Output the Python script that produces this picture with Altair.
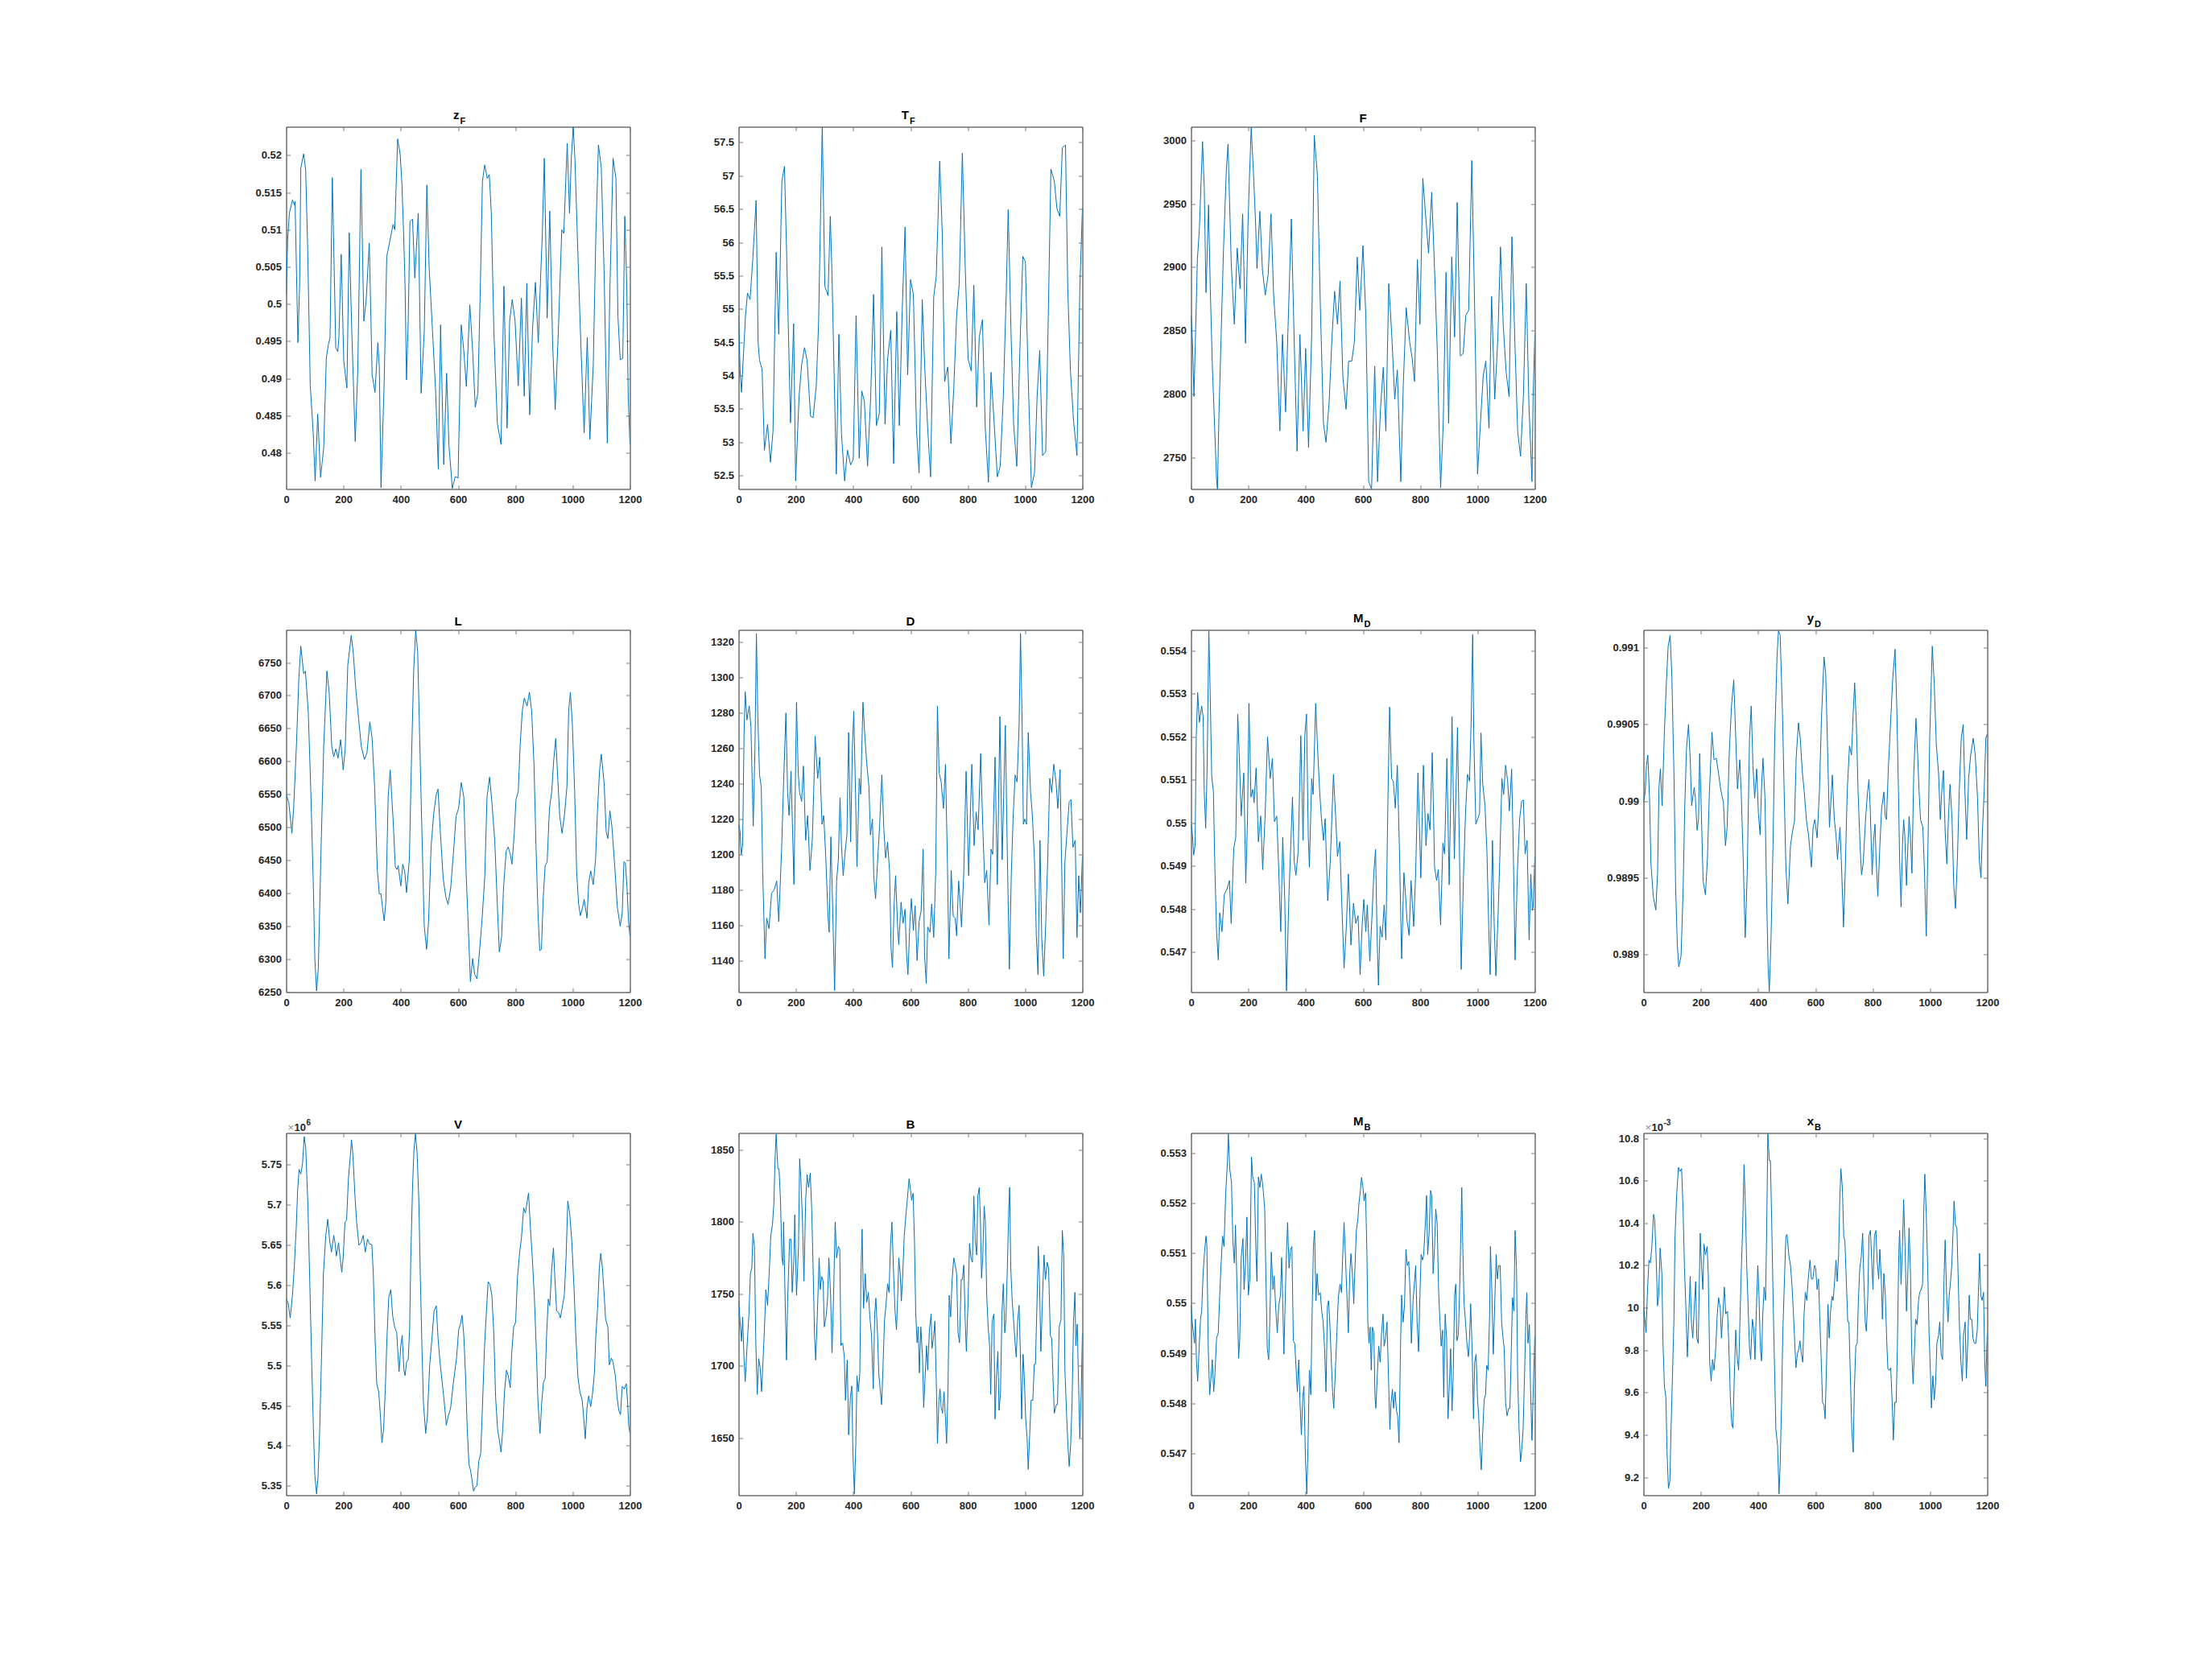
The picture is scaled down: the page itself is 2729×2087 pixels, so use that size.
import altair as alt
import pandas as pd

# ---------------- data ----------------
XT = [0, 200, 400, 600, 800, 1000, 1200]

zF_t = [0,5,11,22,29,31,36,41,47,51,61,68,75,84,94,101,110,120,131,140,147,153,161,169,173,180,184,192,201,212,220,229,241,250,261,271,279,290,300,310,320,325,331,342,351,362,373,379,389,398,404,410,415,420,426,432,441,449,461,471,482,491,499,512,522,531,539,550,560,568,580,590,600,611,620,629,641,651,660,669,677,685,693,702,709,716,725,737,750,760,771,780,789,799,810,821,831,840,850,860,870,880,888,894,901,911,920,930,939,950,962,969,981,989,995,1002,1008,1018,1027,1040,1051,1060,1072,1081,1090,1100,1110,1121,1130,1141,1151,1158,1166,1175,1182,1189,1194,1200]
zF_v = [0.5013,0.5085,0.5122,0.514,0.5133,0.5138,0.5042,0.4948,0.5028,0.5183,0.5202,0.518,0.5075,0.489,0.4829,0.4762,0.4852,0.4767,0.4807,0.4927,0.4945,0.4955,0.517,0.502,0.4941,0.4936,0.4955,0.5067,0.4923,0.4887,0.5096,0.4963,0.4815,0.4912,0.5181,0.4977,0.5004,0.5082,0.4905,0.4881,0.4948,0.4916,0.4753,0.4894,0.5064,0.5085,0.5107,0.51,0.5222,0.5201,0.5161,0.5093,0.5024,0.4898,0.4977,0.5111,0.5114,0.5035,0.5122,0.488,0.4963,0.516,0.5049,0.4955,0.488,0.4778,0.4972,0.4784,0.4907,0.4811,0.4752,0.4768,0.4766,0.4972,0.4937,0.4889,0.4999,0.4936,0.4861,0.488,0.501,0.5165,0.5187,0.5169,0.5174,0.5122,0.4963,0.484,0.4811,0.5024,0.4833,0.4977,0.5006,0.4977,0.489,0.5008,0.4876,0.5028,0.4851,0.4967,0.5029,0.4948,0.5035,0.5093,0.5196,0.4981,0.5125,0.4948,0.4858,0.4963,0.51,0.5095,0.5216,0.5122,0.5194,0.5238,0.5194,0.5071,0.4963,0.4827,0.4955,0.4818,0.4919,0.5093,0.5214,0.5183,0.5039,0.4813,0.502,0.5196,0.5169,0.4984,0.4925,0.4927,0.5118,0.502,0.4876,0.4811]
zF_ticks = [0.48,0.485,0.49,0.495,0.5,0.505,0.51,0.515,0.52]

TF_t = [0,5,10,17,24,31,40,50,61,68,73,82,90,101,111,120,131,140,151,160,168,181,192,199,211,220,230,239,251,260,271,279,286,292,297,301,312,320,326,333,341,350,359,370,380,391,400,410,421,430,439,450,461,471,481,491,500,511,520,531,541,552,561,571,581,590,600,610,621,630,641,650,660,670,681,690,702,711,719,730,741,751,761,770,781,791,801,812,821,831,840,851,861,872,881,892,903,913,924,934,941,951,960,971,982,992,1001,1010,1022,1033,1042,1051,1061,1072,1081,1090,1102,1111,1121,1130,1141,1149,1158,1169,1181,1191,1200]
TF_v = [54.9,54.09,53.75,54.33,54.9,55.24,55.14,55.79,56.63,54.5,54.23,54.09,52.88,53.27,52.7,53.17,55.85,54.62,56.92,57.14,55.75,53.29,54.78,52.42,53.69,54.17,54.42,54.23,53.39,53.37,53.85,54.78,56.43,57.73,56.39,55.34,55.2,56.39,55.5,54.09,52.52,54.62,53.13,52.42,52.88,52.66,52.74,54.9,52.76,53.77,53.61,52.64,53.69,55.22,53.25,53.43,55.93,53.27,54.25,54.68,52.68,54.96,53.25,54.98,56.23,54.01,55.44,55.22,53.17,52.54,55.14,54.09,53.21,52.48,55.18,55.5,57.22,56.11,53.91,54.13,52.98,53.81,54.9,55.38,57.34,55.63,54.25,54.07,55.36,53.53,54.58,54.84,53.21,52.4,54.05,53.29,52.48,52.64,53.69,55.22,56.49,54.62,53.27,52.64,54.42,55.79,55.71,54.09,52.32,52.54,53.69,54.38,52.8,52.86,54.9,57.1,56.92,56.51,56.39,57.42,57.46,55.3,54.09,53.33,52.8,55.3,56.51]
TF_ticks = [52.5,53,53.5,54,54.5,55,55.5,56,56.5,57,57.5]

F_t = [0,5,10,16,22,29,35,40,46,52,55,61,67,74,82,89,92,97,105,113,123,129,140,151,161,171,180,185,190,199,204,210,219,225,230,240,249,259,269,279,288,299,310,319,330,338,350,360,370,380,391,400,410,421,430,441,451,462,471,482,492,501,511,520,530,541,550,561,570,580,589,600,610,620,630,641,651,661,671,680,690,700,711,720,732,741,751,763,772,780,790,799,809,819,829,840,850,860,871,880,890,899,910,920,929,940,950,959,969,980,989,1000,1010,1020,1029,1040,1049,1060,1071,1080,1090,1100,1110,1120,1131,1140,1150,1160,1170,1179,1190,1194,1200]
F_v = [2862,2841,2798,2851,2906,2930,2968,2999,2963,2880,2900,2949,2883,2824,2775,2733,2725,2781,2847,2913,2976,2997,2904,2855,2915,2883,2942,2894,2840,2936,2972,3010,2968,2936,2899,2944,2898,2878,2894,2942,2879,2841,2771,2847,2786,2849,2938,2841,2755,2847,2771,2836,2758,2847,3004,2972,2872,2777,2762,2794,2845,2881,2855,2889,2813,2788,2826,2826,2841,2908,2866,2917,2862,2731,2725,2822,2731,2788,2821,2771,2887,2849,2796,2819,2731,2809,2868,2841,2828,2810,2906,2855,2970,2940,2911,2959,2898,2830,2726,2775,2896,2777,2908,2845,2951,2830,2832,2862,2866,2984,2879,2737,2777,2815,2826,2773,2877,2796,2845,2916,2853,2817,2798,2924,2836,2771,2751,2798,2887,2794,2731,2798,2847]
F_ticks = [2750,2800,2850,2900,2950,3000]

L_t = [0,9,20,26,36,44,51,61,67,77,86,95,100,106,112,122,131,142,150,159,166,173,181,190,199,206,215,227,234,243,253,262,273,282,292,300,309,318,325,331,336,342,348,356,363,373,381,387,391,400,407,414,420,430,437,445,452,459,466,475,482,490,497,506,515,524,530,538,548,557,565,574,583,593,602,611,620,628,637,643,651,658,666,675,684,693,701,710,718,728,737,744,752,759,768,775,782,788,796,802,810,817,824,831,841,849,857,865,872,879,885,891,897,904,911,919,927,934,941,948,955,963,972,980,986,992,999,1007,1014,1021,1027,1035,1040,1050,1056,1063,1072,1080,1087,1094,1100,1110,1117,1123,1130,1137,1147,1156,1166,1173,1179,1184,1190,1195,1200]
L_v = [6550,6538,6491,6529,6627,6725,6775,6733,6737,6676,6554,6407,6301,6252,6285,6472,6623,6737,6705,6623,6607,6619,6605,6633,6587,6619,6746,6791,6766,6709,6664,6623,6603,6613,6660,6635,6558,6436,6399,6399,6379,6358,6387,6546,6587,6513,6440,6436,6442,6411,6444,6432,6401,6452,6595,6737,6799,6766,6635,6472,6350,6315,6358,6472,6521,6550,6558,6493,6423,6395,6383,6407,6456,6517,6529,6568,6546,6432,6334,6266,6301,6277,6270,6313,6362,6423,6546,6576,6538,6480,6383,6311,6334,6411,6464,6470,6460,6444,6489,6542,6554,6627,6676,6696,6684,6705,6676,6595,6472,6370,6313,6315,6391,6442,6448,6529,6554,6603,6635,6574,6517,6491,6521,6562,6676,6705,6656,6554,6432,6383,6366,6379,6391,6362,6415,6434,6413,6452,6529,6587,6611,6566,6493,6483,6525,6501,6440,6379,6350,6370,6448,6446,6407,6358,6334]
L_ticks = [6250,6300,6350,6400,6450,6500,6550,6600,6650,6700,6750]

D_t = [0,5,9,14,19,23,29,37,43,51,57,62,67,73,79,84,92,98,106,115,124,133,140,150,157,165,171,176,183,193,197,202,208,213,220,226,234,241,249,257,262,267,276,283,291,297,304,312,316,322,327,335,342,348,354,359,365,372,378,384,391,397,402,408,413,421,426,434,441,447,455,460,467,472,478,485,492,500,507,513,520,527,532,537,543,548,555,559,567,574,581,586,591,598,603,610,616,623,630,637,644,649,655,660,668,674,681,688,694,700,707,715,722,729,734,742,749,756,761,768,773,778,786,794,803,814,822,829,836,845,852,859,866,874,881,887,895,903,912,920,931,939,945,952,958,965,972,979,984,989,994,999,1005,1011,1019,1025,1033,1039,1045,1052,1058,1065,1072,1079,1086,1093,1100,1108,1114,1122,1128,1133,1139,1147,1154,1160,1167,1175,1181,1187,1193,1200]
D_v = [1217,1213,1200,1205,1269,1292,1276,1284,1272,1216,1260,1325,1278,1245,1238,1190,1141,1164,1158,1178,1180,1185,1162,1203,1241,1280,1235,1222,1247,1183,1228,1286,1246,1235,1230,1250,1208,1222,1191,1208,1235,1267,1243,1255,1217,1222,1199,1165,1156,1210,1178,1123,1185,1197,1232,1205,1188,1202,1211,1269,1207,1260,1281,1235,1193,1243,1234,1286,1266,1252,1238,1211,1220,1187,1175,1196,1216,1245,1214,1198,1207,1190,1147,1136,1173,1188,1159,1149,1173,1161,1169,1144,1132,1162,1175,1157,1171,1140,1162,1168,1203,1143,1127,1159,1156,1172,1153,1190,1284,1246,1241,1226,1251,1194,1141,1191,1165,1164,1154,1185,1173,1159,1190,1247,1188,1251,1205,1224,1214,1257,1217,1184,1191,1160,1203,1200,1255,1183,1278,1197,1273,1190,1135,1190,1220,1245,1241,1273,1325,1281,1217,1220,1217,1269,1235,1223,1196,1155,1132,1208,1153,1131,1161,1197,1243,1235,1251,1241,1226,1248,1190,1141,1196,1214,1230,1231,1204,1208,1153,1188,1167,1199]
D_ticks = [1140,1160,1180,1200,1220,1240,1260,1280,1300,1320]

MD_t = [0,5,9,14,18,23,29,37,42,46,51,56,62,67,72,78,83,89,95,100,108,116,126,134,140,149,156,163,170,175,184,191,197,202,209,215,220,227,235,243,250,258,267,276,284,291,299,305,313,320,327,333,342,348,354,360,366,374,383,391,397,403,409,413,421,426,435,441,449,455,462,468,477,486,497,505,511,519,525,534,542,549,558,567,575,583,590,597,603,610,615,624,631,638,644,649,654,660,667,674,680,687,693,700,706,713,720,727,735,743,749,754,761,768,777,784,792,802,811,820,827,834,842,850,857,863,871,879,885,893,901,911,919,930,938,943,951,958,965,972,978,983,987,994,1001,1007,1012,1018,1026,1033,1039,1044,1052,1058,1064,1072,1079,1085,1091,1098,1105,1111,1119,1125,1131,1139,1147,1154,1160,1166,1173,1180,1186,1191,1194,1200]
MD_v = [0.54997,0.54972,0.54925,0.54947,0.55197,0.55303,0.55234,0.55272,0.55247,0.55072,0.54988,0.55128,0.55447,0.55291,0.55109,0.55072,0.54897,0.54747,0.54681,0.54791,0.54747,0.54834,0.54847,0.54866,0.54766,0.54941,0.54966,0.55253,0.55122,0.55016,0.55116,0.5486,0.5501,0.55278,0.5506,0.55078,0.55047,0.55128,0.54956,0.55016,0.54891,0.5501,0.552,0.55103,0.5515,0.55003,0.55016,0.5491,0.54747,0.54966,0.54822,0.54609,0.54841,0.54947,0.5506,0.5491,0.54878,0.54934,0.55203,0.54959,0.55203,0.55253,0.54972,0.54897,0.55103,0.55066,0.55278,0.55181,0.55072,0.5501,0.54959,0.5501,0.54819,0.5491,0.55113,0.5501,0.54922,0.54956,0.54834,0.54662,0.54759,0.54881,0.54716,0.54813,0.54766,0.54784,0.54647,0.54759,0.54822,0.54747,0.54809,0.54678,0.54775,0.54884,0.54938,0.54747,0.54622,0.54759,0.54734,0.54809,0.54728,0.55047,0.55269,0.55103,0.55097,0.55034,0.55134,0.54947,0.54684,0.54884,0.54828,0.54772,0.54738,0.54866,0.54759,0.54884,0.55116,0.54872,0.55134,0.54947,0.55022,0.54984,0.55163,0.54897,0.54866,0.54891,0.54763,0.54953,0.54928,0.5515,0.54856,0.55247,0.54916,0.55222,0.54884,0.54659,0.54878,0.55022,0.55113,0.55097,0.55247,0.55438,0.55197,0.54997,0.5501,0.55022,0.55209,0.55091,0.55041,0.54928,0.54759,0.54647,0.54959,0.54766,0.54644,0.54791,0.54947,0.55103,0.55066,0.55134,0.55097,0.55028,0.55125,0.54928,0.54681,0.54884,0.5501,0.5505,0.55053,0.54928,0.54959,0.54728,0.54881,0.54797,0.54803,0.54922]
MD_ticks = [0.547,0.548,0.549,0.55,0.551,0.552,0.553,0.554]

yD_t = [0,6,10,15,21,26,34,43,49,54,59,65,73,80,86,93,99,106,112,118,123,131,138,144,150,157,163,168,177,181,187,192,196,202,208,216,223,230,239,246,254,262,269,279,286,292,299,307,315,322,328,336,341,348,355,362,370,376,382,388,395,401,407,412,417,424,430,435,439,445,452,458,466,471,477,485,491,497,504,513,520,527,533,541,547,554,561,569,576,586,592,598,606,614,621,630,636,644,649,659,666,672,677,686,692,698,704,711,719,726,732,737,743,749,756,761,767,775,782,787,792,798,803,808,812,818,825,831,839,844,848,855,863,870,878,884,890,894,899,904,908,912,918,923,927,932,937,943,951,957,962,967,975,981,987,993,999,1008,1015,1022,1030,1036,1041,1047,1053,1059,1065,1070,1077,1083,1089,1096,1102,1109,1116,1122,1128,1135,1142,1151,1158,1166,1172,1178,1183,1189,1195,1200]
yD_v = [0.98999,0.99006,0.99023,0.9903,0.99002,0.98959,0.98938,0.98929,0.98953,0.99009,0.99021,0.98997,0.99046,0.99078,0.99101,0.99108,0.99081,0.9902,0.98945,0.98906,0.98892,0.98899,0.9894,0.98997,0.99034,0.9905,0.99027,0.98997,0.99009,0.99002,0.98981,0.98988,0.99031,0.98992,0.98948,0.98939,0.98962,0.99006,0.99045,0.99027,0.99028,0.99018,0.99008,0.98999,0.98971,0.98983,0.9903,0.99062,0.99079,0.99041,0.99008,0.99027,0.99006,0.98962,0.98911,0.98953,0.99041,0.99062,0.99023,0.99002,0.99021,0.98992,0.98978,0.99009,0.99028,0.99002,0.98936,0.98892,0.98876,0.9891,0.98971,0.99041,0.99094,0.99111,0.99108,0.99058,0.99006,0.98957,0.98933,0.98971,0.9898,0.98987,0.99029,0.99051,0.99041,0.9902,0.99006,0.98987,0.98978,0.98957,0.98983,0.98988,0.98976,0.99006,0.99053,0.99094,0.99083,0.99023,0.98983,0.99017,0.98988,0.98978,0.98962,0.98983,0.98953,0.98918,0.98953,0.99006,0.99036,0.9903,0.99058,0.99077,0.9905,0.99006,0.98971,0.98952,0.9896,0.98988,0.99006,0.99014,0.98992,0.98952,0.98974,0.98985,0.98962,0.98938,0.98971,0.98995,0.99006,0.9899,0.98988,0.99023,0.99053,0.9908,0.99099,0.99062,0.99006,0.98962,0.98931,0.98971,0.98988,0.98978,0.98945,0.98971,0.9899,0.98976,0.98953,0.99016,0.99054,0.9903,0.99006,0.98988,0.98983,0.98953,0.98912,0.98971,0.99041,0.99101,0.99076,0.99037,0.99018,0.98988,0.99006,0.9902,0.9898,0.98959,0.98992,0.99011,0.98988,0.98945,0.9893,0.98964,0.99006,0.99041,0.9905,0.99006,0.98975,0.99015,0.9903,0.99041,0.9903,0.99002,0.98962,0.9895,0.9898,0.99006,0.99041,0.99044]
yD_ticks = [0.989,0.9895,0.99,0.9905,0.991]

V_t = [0,7,14,22,28,35,40,45,51,57,63,68,76,82,89,95,100,106,111,117,124,130,138,145,152,158,166,171,175,183,188,194,199,205,211,217,224,228,233,240,246,254,261,269,276,284,291,299,304,310,316,323,329,334,340,346,352,358,365,372,379,386,389,394,400,405,411,415,420,426,431,435,441,446,451,457,463,468,474,479,487,493,501,509,516,524,530,537,544,551,559,566,574,581,588,595,602,609,614,620,626,632,638,643,649,654,660,666,672,679,685,692,699,705,711,718,725,731,738,744,750,756,762,769,775,782,787,794,801,807,815,821,829,835,840,846,852,859,866,873,879,886,892,898,904,909,915,920,927,933,938,944,951,957,963,971,977,983,990,997,1005,1011,1018,1025,1033,1038,1044,1050,1056,1063,1069,1076,1081,1087,1093,1098,1104,1110,1115,1123,1128,1135,1141,1149,1155,1161,1167,1173,1180,1187,1192,1196,1200]
V_v = [5.5827,5.5776,5.5592,5.5877,5.6212,5.6714,5.7182,5.7443,5.7383,5.7517,5.7851,5.7718,5.6981,5.6078,5.504,5.4204,5.3635,5.34,5.3601,5.4204,5.5208,5.6145,5.6613,5.6821,5.6546,5.6412,5.662,5.6513,5.6362,5.6529,5.6345,5.6161,5.6345,5.678,5.6814,5.7316,5.7617,5.7811,5.7617,5.7115,5.678,5.6496,5.6529,5.662,5.6412,5.6573,5.6513,5.6506,5.6145,5.5375,5.4772,5.4672,5.4371,5.4036,5.4204,5.4706,5.5375,5.5843,5.5944,5.5609,5.5475,5.5408,5.5208,5.4923,5.5241,5.5375,5.494,5.4873,5.504,5.5074,5.5475,5.6345,5.7216,5.7684,5.7885,5.7651,5.7048,5.6145,5.5208,5.4539,5.4153,5.4371,5.5007,5.5341,5.5676,5.5743,5.5341,5.504,5.4806,5.4572,5.4254,5.4371,5.4471,5.4706,5.4906,5.5107,5.5442,5.5525,5.5626,5.5375,5.4873,5.4204,5.3769,5.3702,5.3568,5.3434,5.3484,5.3501,5.3802,5.3902,5.4471,5.5208,5.5676,5.6044,5.601,5.5877,5.5375,5.4605,5.4204,5.407,5.3919,5.4204,5.4672,5.494,5.4873,5.4722,5.5141,5.5475,5.5542,5.6078,5.6412,5.658,5.6965,5.6898,5.7015,5.7149,5.6747,5.6345,5.5877,5.5208,5.4539,5.4153,5.4539,5.4789,5.4839,5.5375,5.5827,5.5743,5.6212,5.6463,5.6078,5.5676,5.5659,5.5592,5.571,5.5877,5.6345,5.7048,5.6881,5.6546,5.5944,5.5375,5.4873,5.4672,5.4572,5.4371,5.4086,5.4471,5.4622,5.4488,5.4639,5.4906,5.5375,5.571,5.6212,5.6396,5.6212,5.5877,5.5576,5.5475,5.5007,5.5091,5.504,5.4873,5.4605,5.4438,5.4388,5.4739,5.4706,5.4772,5.4539,5.4237,5.4153]
V_ticks = [5.35,5.4,5.45,5.5,5.55,5.6,5.65,5.7,5.75]

B_t = [0,5,10,14,19,23,29,36,41,46,50,55,60,65,70,75,80,85,90,95,101,108,112,118,123,127,131,137,141,146,151,155,157,162,167,171,178,183,187,193,196,202,209,213,217,223,228,234,239,244,250,255,260,265,269,274,281,285,290,295,299,305,310,315,321,326,331,337,342,348,353,357,363,369,373,379,384,390,395,399,404,409,413,418,423,427,431,436,442,447,453,458,464,470,475,479,485,489,494,499,503,509,515,520,525,530,535,541,546,551,556,559,564,568,573,578,584,589,595,600,604,609,614,618,623,627,631,636,642,646,651,656,660,666,672,675,680,685,690,694,699,703,707,712,717,721,726,731,735,740,745,751,756,761,766,771,777,781,786,791,795,801,806,811,816,821,826,831,835,840,844,848,852,857,861,866,871,876,880,885,891,895,900,905,909,914,919,924,929,933,938,943,946,950,955,960,965,969,974,979,983,988,993,997,1002,1007,1011,1016,1021,1027,1032,1036,1041,1046,1050,1055,1061,1066,1071,1077,1082,1088,1093,1098,1102,1109,1113,1119,1125,1130,1135,1139,1145,1150,1154,1159,1164,1169,1174,1177,1182,1186,1191,1196,1200]
B_v = [1745,1731,1717,1734,1704,1689,1712,1736,1764,1768,1792,1783,1716,1680,1705,1699,1682,1703,1725,1753,1742,1770,1790,1798,1813,1843,1861,1837,1837,1815,1775,1770,1800,1749,1704,1745,1788,1788,1751,1775,1805,1749,1783,1844,1831,1800,1759,1815,1833,1824,1834,1809,1768,1721,1704,1731,1775,1753,1762,1759,1727,1734,1745,1775,1749,1709,1745,1800,1775,1783,1781,1714,1716,1706,1676,1704,1652,1678,1686,1639,1611,1645,1693,1682,1695,1764,1795,1740,1764,1744,1751,1734,1721,1684,1736,1747,1721,1695,1684,1673,1693,1731,1744,1757,1751,1783,1800,1764,1738,1725,1753,1775,1764,1745,1764,1790,1805,1816,1830,1822,1815,1820,1785,1738,1716,1727,1695,1727,1706,1671,1693,1714,1697,1725,1736,1712,1719,1731,1689,1646,1675,1684,1671,1667,1682,1667,1646,1686,1749,1734,1759,1775,1770,1764,1723,1716,1760,1760,1770,1731,1710,1745,1785,1775,1772,1818,1787,1777,1818,1824,1801,1761,1775,1811,1801,1749,1727,1714,1680,1731,1736,1663,1693,1710,1669,1680,1736,1757,1723,1732,1768,1809,1824,1768,1745,1731,1716,1706,1731,1742,1712,1663,1708,1693,1663,1650,1628,1652,1676,1676,1701,1701,1740,1783,1760,1710,1749,1777,1760,1772,1768,1721,1719,1688,1667,1673,1673,1727,1732,1794,1775,1697,1665,1643,1630,1645,1675,1731,1751,1714,1729,1693,1650,1682,1723]
B_ticks = [1650,1700,1750,1800,1850]

MB_t = [0,4,8,12,15,19,23,28,33,37,42,47,52,55,60,65,70,74,79,83,89,95,100,104,110,115,121,127,130,135,141,146,151,155,161,166,170,175,181,185,190,195,200,205,211,215,221,226,230,235,240,245,251,257,261,266,271,275,280,286,290,296,301,306,312,316,319,324,329,333,337,342,347,352,357,362,366,371,376,380,385,390,394,399,404,408,413,418,422,427,431,436,440,445,451,456,461,466,471,476,480,485,489,494,498,503,509,514,520,525,529,534,539,544,549,554,558,563,568,572,577,582,586,591,595,600,604,609,614,617,621,625,629,633,638,642,645,650,655,660,665,670,674,679,684,689,694,698,703,707,712,717,721,726,731,735,740,745,750,755,760,765,769,775,780,784,789,794,799,803,808,812,817,822,826,831,836,840,845,850,854,859,864,868,873,878,882,887,892,897,902,906,911,915,920,924,928,933,938,942,945,948,953,958,963,968,972,976,981,986,990,995,1000,1004,1009,1013,1018,1023,1028,1032,1037,1042,1045,1050,1055,1060,1065,1069,1074,1079,1084,1089,1093,1098,1103,1109,1113,1118,1122,1127,1131,1136,1140,1145,1150,1154,1159,1164,1169,1172,1176,1181,1185,1190,1195,1200]
MB_v = [0.54995,0.54962,0.54941,0.5492,0.54968,0.54882,0.54844,0.54909,0.54968,0.54984,0.55059,0.55102,0.55134,0.55118,0.54909,0.54817,0.54855,0.54887,0.54823,0.54855,0.5493,0.54941,0.55016,0.5507,0.55134,0.55113,0.5522,0.55284,0.55338,0.55268,0.55241,0.55123,0.5508,0.55156,0.55016,0.5489,0.5493,0.55091,0.55129,0.55027,0.5508,0.55172,0.55016,0.55048,0.55292,0.55252,0.55241,0.55113,0.55043,0.55252,0.55231,0.55258,0.55231,0.55188,0.55059,0.54909,0.54887,0.54968,0.55102,0.55027,0.55054,0.54984,0.54941,0.54995,0.55016,0.55091,0.55027,0.54898,0.55016,0.55102,0.55161,0.5507,0.55107,0.55113,0.54925,0.54919,0.54876,0.54823,0.54887,0.54807,0.54737,0.54812,0.54834,0.54694,0.54619,0.5471,0.54866,0.54817,0.54962,0.55113,0.55145,0.55005,0.55059,0.55016,0.55021,0.54984,0.54962,0.54909,0.54823,0.54995,0.55005,0.54952,0.54893,0.54823,0.5479,0.54855,0.54941,0.55011,0.55038,0.55021,0.55091,0.55161,0.55091,0.55016,0.54941,0.55059,0.55099,0.55059,0.54999,0.5507,0.55145,0.55166,0.55199,0.55225,0.55251,0.55231,0.55204,0.5522,0.55097,0.54962,0.5492,0.54952,0.54866,0.54952,0.54941,0.54812,0.5479,0.54855,0.54914,0.54882,0.54941,0.54978,0.54914,0.5493,0.54962,0.54855,0.54748,0.54801,0.54828,0.5479,0.54823,0.54785,0.54775,0.54721,0.54909,0.55016,0.54962,0.54995,0.55107,0.55075,0.55083,0.55016,0.5492,0.55005,0.55043,0.55075,0.54962,0.54903,0.55016,0.55097,0.55086,0.55097,0.5515,0.55215,0.55097,0.5514,0.55225,0.55215,0.55059,0.55113,0.55188,0.55161,0.55027,0.54973,0.54914,0.54946,0.54812,0.54978,0.5493,0.54769,0.54844,0.54909,0.54785,0.54855,0.55016,0.55038,0.54925,0.54936,0.55038,0.5515,0.55231,0.55123,0.54999,0.54962,0.5492,0.54893,0.5493,0.54999,0.54909,0.54769,0.54882,0.54898,0.54807,0.54775,0.54705,0.54667,0.54742,0.54807,0.54817,0.54876,0.54866,0.54973,0.55113,0.55021,0.54898,0.54999,0.55097,0.55048,0.55075,0.55075,0.54962,0.5493,0.54909,0.54801,0.54775,0.5479,0.5479,0.54909,0.55011,0.54984,0.55145,0.5507,0.54855,0.54748,0.54683,0.54705,0.54748,0.54855,0.54978,0.55021,0.5492,0.54957,0.54828,0.54726,0.54839,0.54936]
MB_ticks = [0.547,0.548,0.549,0.55,0.551,0.552,0.553]

xB_t = [0,5,9,14,19,24,29,35,39,44,49,53,58,64,68,73,78,82,87,92,96,101,106,110,116,122,127,133,138,143,148,153,158,163,167,172,177,182,186,191,195,198,202,207,211,216,222,226,231,236,241,246,252,257,262,268,272,277,282,287,293,297,303,308,312,317,322,326,332,337,341,346,351,355,360,365,370,374,380,385,389,394,399,403,408,412,416,421,426,430,434,439,443,448,453,458,462,468,473,477,482,486,492,497,501,507,513,518,523,528,532,537,542,546,551,556,560,565,570,575,581,586,591,597,601,606,611,615,620,625,630,634,639,644,648,653,658,662,667,672,676,681,685,689,694,699,703,708,713,717,722,727,732,736,741,746,750,755,760,765,769,774,778,783,787,792,797,801,806,811,816,821,825,830,834,839,844,849,853,859,863,868,872,877,882,886,891,894,899,904,908,913,918,922,927,932,936,941,946,950,955,960,964,969,974,978,982,987,992,997,1002,1005,1010,1015,1020,1024,1030,1034,1039,1044,1049,1053,1058,1063,1067,1071,1076,1081,1084,1089,1094,1098,1103,1108,1113,1117,1123,1127,1132,1137,1141,1146,1150,1155,1160,1165,1169,1173,1177,1182,1187,1191,1195,1198,1200]
xB_v = [10.003,9.946,9.883,10.086,10.225,10.212,10.289,10.441,10.415,10.238,10.009,10.06,10.282,10.162,9.832,9.629,9.578,9.324,9.147,9.185,9.426,9.679,9.933,10.339,10.542,10.663,10.644,10.657,10.466,10.187,9.997,9.768,9.959,10.149,9.933,9.857,9.997,10.124,9.857,9.832,10.136,10.352,10.212,10.086,10.301,10.251,10.289,10.162,9.743,9.654,9.756,9.705,9.806,9.959,10.048,9.997,9.857,9.971,10.098,9.971,9.984,9.857,9.578,9.451,9.432,9.679,9.895,9.781,9.705,9.959,10.162,10.377,10.676,10.504,10.212,10.009,9.806,9.756,9.946,9.895,9.756,9.997,10.2,10.06,9.806,9.749,9.959,10.098,10.035,10.377,10.822,10.695,10.695,10.365,9.997,9.679,9.426,9.35,9.121,9.261,9.553,9.87,10.136,10.339,10.346,10.251,10.2,10.111,9.984,9.832,9.717,9.781,9.806,9.844,9.781,9.743,9.959,10.073,10.035,10.136,10.225,10.136,10.136,10.2,10.187,10.086,10.136,9.959,9.768,9.553,9.54,9.476,9.743,10.016,9.857,9.984,10.054,10.035,10.124,10.225,10.124,10.251,10.504,10.657,10.568,10.339,10.314,10.124,9.933,9.933,9.679,9.426,9.318,9.616,9.819,9.832,10.035,10.187,10.238,10.352,10.136,9.933,9.889,10.06,10.339,10.365,10.212,10.086,10.339,10.365,10.212,10.136,10.276,10.136,9.946,10.162,10.06,9.844,9.711,9.705,9.717,9.553,9.375,9.553,9.553,9.806,10.251,10.365,10.111,10.289,10.511,10.289,9.984,10.136,10.377,10.162,9.806,9.641,9.806,9.946,9.921,10.035,10.073,10.086,10.111,10.441,10.631,10.441,10.187,9.87,9.679,9.527,9.679,9.565,9.654,9.832,9.87,9.933,9.781,9.756,10.136,10.32,10.06,9.933,10.06,10.111,10.2,10.377,10.504,10.39,10.377,10.162,9.908,9.743,9.654,9.87,9.933,9.667,9.844,10.06,9.946,9.946,9.857,9.832,9.832,9.895,10.073,10.257,10.06,10.035,10.073,9.743,9.629,9.806,9.883]
xB_ticks = [9.2,9.4,9.6,9.8,10,10.2,10.4,10.6,10.8]

# ---------------- styling ----------------
W, H = 427, 450
FONT = "Liberation Sans"
LINE = "#0072BD"
AX = "#262626"
TICKC = "#7a7a7a"
TL = 5
NUMFMT = ".4~f"


def text_layer(s, x, y, size, weight="bold", color=AX, align="left"):
    return alt.Chart(pd.DataFrame({"s": [s]})).mark_text(
        align=align, baseline="alphabetic", font=FONT, fontSize=size,
        fontWeight=weight, color=color
    ).encode(text="s:N", x=alt.value(x), y=alt.value(y))


def axis_opts(values, orient, labels, pad):
    opts = dict(values=values, orient=orient, title="", grid=False, domain=False,
                ticks=True, tickSize=TL, tickColor=TICKC, tickWidth=1, offset=-TL,
                labels=labels, labelFont=FONT, labelFontSize=13,
                labelFontWeight="bold", labelColor=AX, labelOverlap=False,
                labelFlush=False, labelPadding=pad, format=NUMFMT)
    return alt.Axis(**opts)


def panel(t, v, dom, ticks, main, sub=None, dx=0.0, exp=None):
    n = min(len(t), len(v))
    df = pd.DataFrame({"t": t[:n], "v": v[:n]})
    xs = alt.Scale(domain=[0, 1200], nice=False, zero=False)
    ys = alt.Scale(domain=dom, nice=False, zero=False)
    line = alt.Chart(df).mark_line(color=LINE, strokeWidth=1, clip=True).encode(
        x=alt.X("t:Q", scale=xs, axis=axis_opts(XT, "bottom", True, 7)),
        y=alt.Y("v:Q", scale=ys, axis=axis_opts(ticks, "left", True, 6)),
    )
    ghost = alt.Chart(df).mark_line(strokeOpacity=0, clip=True).encode(
        x=alt.X("t:Q", scale=xs, axis=axis_opts(XT, "top", False, 2)),
        y=alt.Y("v:Q", scale=ys, axis=axis_opts(ticks, "right", False, 2)),
    )
    layers = [line, ghost]
    if sub is None:
        layers.append(text_layer(main, W / 2, -6, 15, color="#000000", align="center"))
    else:
        layers.append(text_layer(main, W / 2 + dx, -10, 15, color="#000000", align="right"))
        layers.append(text_layer(sub, W / 2 + dx + 1, -4, 11, color="#000000"))
    if exp is not None:
        layers.append(text_layer("\u00d7", 2, -3, 13, weight="normal", color="#8c8c8c"))
        layers.append(text_layer("10", 10, -3, 13))
        layers.append(text_layer(exp, 25, -10, 10))
    return (alt.layer(*layers)
            .resolve_axis(x="independent", y="independent")
            .properties(width=W, height=H,
                        view=alt.ViewBackground(stroke=AX, strokeWidth=1)))


blank = alt.Chart(pd.DataFrame({"a": [0]})).mark_point(opacity=0).encode(
    x=alt.X("a:Q", axis=None), y=alt.Y("a:Q", axis=None)
).properties(width=W, height=H, view=alt.ViewBackground(stroke="transparent"))

panels = [
    panel(zF_t, zF_v, [0.47512, 0.52383], zF_ticks, "z", "F", dx=1.5),
    panel(TF_t, TF_v, [52.298, 57.734], TF_ticks, "T", "F", dx=-2),
    panel(F_t, F_v, [2725.2, 3010.6], F_ticks, "F"),
    blank,
    panel(L_t, L_v, [6250, 6799.5], L_ticks, "L"),
    panel(D_t, D_v, [1122.1, 1327.0], D_ticks, "D"),
    panel(MD_t, MD_v, [0.546063, 0.554488], MD_ticks, "M", "D", dx=0.5),
    panel(yD_t, yD_v, [0.988755, 0.991116], yD_ticks, "y", "D", dx=-2),
    panel(V_t, V_v, [5.3383, 5.7895], V_ticks, "V", exp="6"),
    panel(B_t, B_v, [1610.0, 1861.8], B_ticks, "B"),
    panel(MB_t, MB_v, [0.546163, 0.553397], MB_ticks, "M", "B", dx=0.5),
    panel(xB_t, xB_v, [9.115, 10.825], xB_ticks, "x", "B", dx=-2, exp="-3"),
]

chart = alt.concat(
    *panels, columns=4,
    spacing=alt.RowColnumber(row=175, column=135),
    bounds="flush",
).properties(
    autosize=alt.AutoSizeParams(type="none"),
    padding={"left": 347.5, "top": 149.5, "right": 2352.5, "bottom": 1910.5},
).configure(font=FONT).configure_view(stroke=AX, strokeWidth=1)

chart.save("out.html", embed_options={"renderer": "svg", "actions": False})
